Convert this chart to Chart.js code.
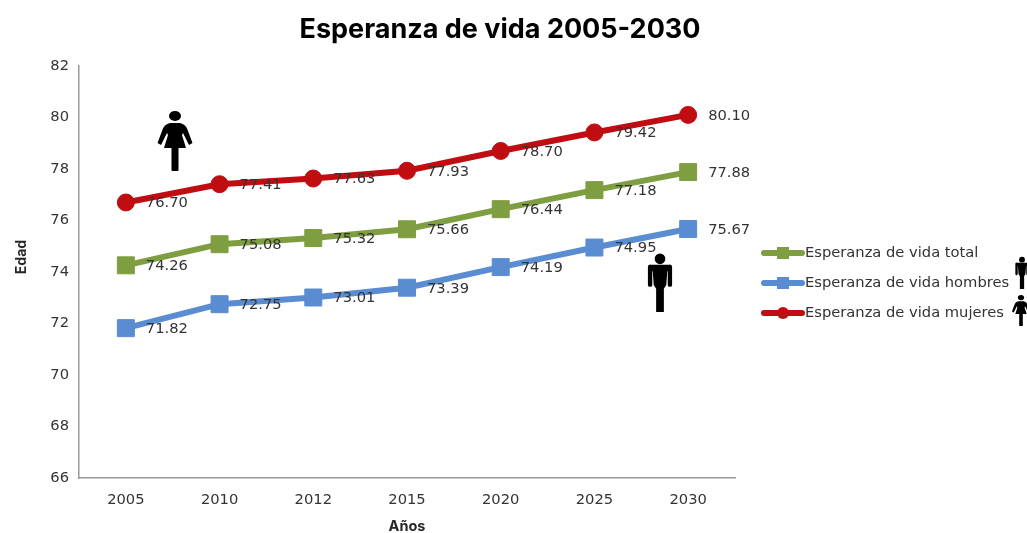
<!DOCTYPE html>
<html>
<head>
<meta charset="utf-8">
<script src="https://cdn.jsdelivr.net/npm/chart.js@4"></script>
<style>
  html, body { margin: 0; padding: 0; background: #fff; overflow: hidden; }
</style>
</head>
<body>
<canvas id="lifeChart" width="1027" height="533"></canvas>
<script>
var years = ["2005", "2010", "2012", "2015", "2020", "2025", "2030"];
var total = [74.26, 75.08, 75.32, 75.66, 76.44, 77.18, 77.88];
var hombres = [71.82, 72.75, 73.01, 73.39, 74.19, 74.95, 75.67];
var mujeres = [76.70, 77.41, 77.63, 77.93, 78.70, 79.42, 80.10];

var textFont = "'DejaVu Sans', sans-serif";
var boldFont = "Inter, sans-serif";

function drawMan(ctx, cx, top, h) {
  var s = h / 60;
  ctx.save();
  ctx.translate(cx, top);
  ctx.scale(s, s);
  ctx.fillStyle = "#000";
  ctx.beginPath();
  ctx.arc(0, 5, 5.5, 0, Math.PI * 2);
  ctx.fill();
  // arms
  ctx.beginPath();
  ctx.roundRect(-12.5, 11, 4.5, 23, 2);
  ctx.roundRect(8, 11, 4.5, 23, 2);
  ctx.fill();
  // torso and legs
  ctx.beginPath();
  ctx.moveTo(-11, 11);
  ctx.lineTo(11, 11);
  ctx.lineTo(11, 16);
  ctx.lineTo(7.5, 18);
  ctx.lineTo(6.5, 32);
  ctx.lineTo(4, 36);
  ctx.lineTo(4, 60);
  ctx.lineTo(-4, 60);
  ctx.lineTo(-4, 36);
  ctx.lineTo(-6.5, 32);
  ctx.lineTo(-7.5, 18);
  ctx.lineTo(-11, 16);
  ctx.closePath();
  ctx.fill();
  ctx.restore();
}

function drawWoman(ctx, cx, top, h) {
  var s = h / 60;
  ctx.save();
  ctx.translate(cx, top);
  ctx.scale(s, s);
  ctx.fillStyle = "#000";
  ctx.beginPath();
  ctx.ellipse(0, 5, 6, 5, 0, 0, Math.PI * 2);
  ctx.fill();
  // dress and arms
  ctx.beginPath();
  ctx.moveTo(-5, 12);
  ctx.lineTo(5, 12);
  ctx.quadraticCurveTo(11, 13, 13, 20);
  ctx.lineTo(17.5, 32);
  ctx.lineTo(14, 34);
  ctx.lineTo(8, 22);
  ctx.lineTo(7, 24);
  ctx.lineTo(11, 37);
  ctx.lineTo(-11, 37);
  ctx.lineTo(-7, 24);
  ctx.lineTo(-8, 22);
  ctx.lineTo(-14, 34);
  ctx.lineTo(-17.5, 32);
  ctx.lineTo(-13, 20);
  ctx.quadraticCurveTo(-11, 13, -5, 12);
  ctx.fill();
  ctx.beginPath();
  ctx.roundRect(-3.5, 35, 7, 25, 1);
  ctx.fill();
  ctx.restore();
}

var decorPlugin = {
  id: "decor",
  afterDatasetsDraw: function(chart) {
    var ctx = chart.ctx;
    ctx.save();

    // data labels, right of each point
    ctx.font = "14.7px " + textFont;
    ctx.fillStyle = "#333";
    ctx.textAlign = "left";
    ctx.textBaseline = "middle";
    chart.data.datasets.forEach(function(ds, i) {
      chart.getDatasetMeta(i).data.forEach(function(pt, j) {
        ctx.fillText(ds.data[j].toFixed(2), pt.x + 20, pt.y + 1);
      });
    });

    // title
    ctx.font = "bold 27px " + boldFont;
    ctx.fillStyle = "#000";
    ctx.textAlign = "center";
    ctx.fillText("Esperanza de vida 2005-2030", 500, 30);

    // y axis title sits above the middle of the axis
    ctx.save();
    ctx.translate(22, 257);
    ctx.rotate(-Math.PI / 2);
    ctx.font = "bold 14px " + boldFont;
    ctx.fillStyle = "#262626";
    ctx.fillText("Edad", 0, 0);
    ctx.restore();

    // legend
    ctx.font = "14.7px " + textFont;
    ctx.textAlign = "left";
    chart.data.datasets.forEach(function(ds, i) {
      var y = 253 + i * 30;
      ctx.strokeStyle = ds.borderColor;
      ctx.lineWidth = 6;
      ctx.lineCap = "round";
      ctx.beginPath();
      ctx.moveTo(764, y);
      ctx.lineTo(802, y);
      ctx.stroke();
      ctx.fillStyle = ds.borderColor;
      if (ds.pointStyle === "circle") {
        ctx.beginPath();
        ctx.arc(783, y, 6, 0, Math.PI * 2);
        ctx.fill();
      } else {
        ctx.fillRect(777, y - 6, 12, 12);
      }
      ctx.fillStyle = "#333";
      ctx.fillText(ds.label, 805, y);
    });

    drawWoman(ctx, 175, 111, 60);
    drawMan(ctx, 660, 254, 58);
    drawMan(ctx, 1022, 257, 32);
    drawWoman(ctx, 1021, 295, 31);
    ctx.restore();
  }
};

new Chart(document.getElementById("lifeChart").getContext("2d"), {
  type: "line",
  data: {
    labels: years,
    datasets: [
      { label: "Esperanza de vida total", data: total, borderColor: "#7F9E41", backgroundColor: "#7F9E41", pointStyle: "rect", pointRadius: 12 },
      { label: "Esperanza de vida hombres", data: hombres, borderColor: "#5A8CD2", backgroundColor: "#5A8CD2", pointStyle: "rect", pointRadius: 12 },
      { label: "Esperanza de vida mujeres", data: mujeres, borderColor: "#C00D12", backgroundColor: "#C00D12", pointStyle: "circle", pointRadius: 8.5 }
    ]
  },
  options: {
    responsive: false,
    animation: false,
    layout: { padding: { top: 66, right: 292, left: 0, bottom: 0 } },
    elements: { line: { borderWidth: 6, tension: 0, borderCapStyle: "round" } },
    plugins: { legend: { display: false }, title: { display: false }, tooltip: { enabled: false } },
    scales: {
      x: {
        offset: true,
        afterFit: function(scale) { scale.height = 55; },
        grid: { display: false },
        border: { color: "#9a9a9a", width: 1.5 },
        ticks: { color: "#333", font: { family: textFont, size: 14.7 }, padding: 5 },
        title: { display: true, text: "Años", color: "#262626", font: { family: boldFont, size: 14.5, weight: "bold", lineHeight: 0.9 }, padding: { top: 0, bottom: 0 } }
      },
      y: {
        min: 66,
        max: 82,
        afterFit: function(scale) { scale.width = 79; },
        grid: { display: false },
        border: { color: "#9a9a9a", width: 1.5 },
        ticks: { stepSize: 2, color: "#333", font: { family: textFont, size: 14.7 }, padding: 2 }
      }
    }
  },
  plugins: [decorPlugin]
});
</script>
</body>
</html>
